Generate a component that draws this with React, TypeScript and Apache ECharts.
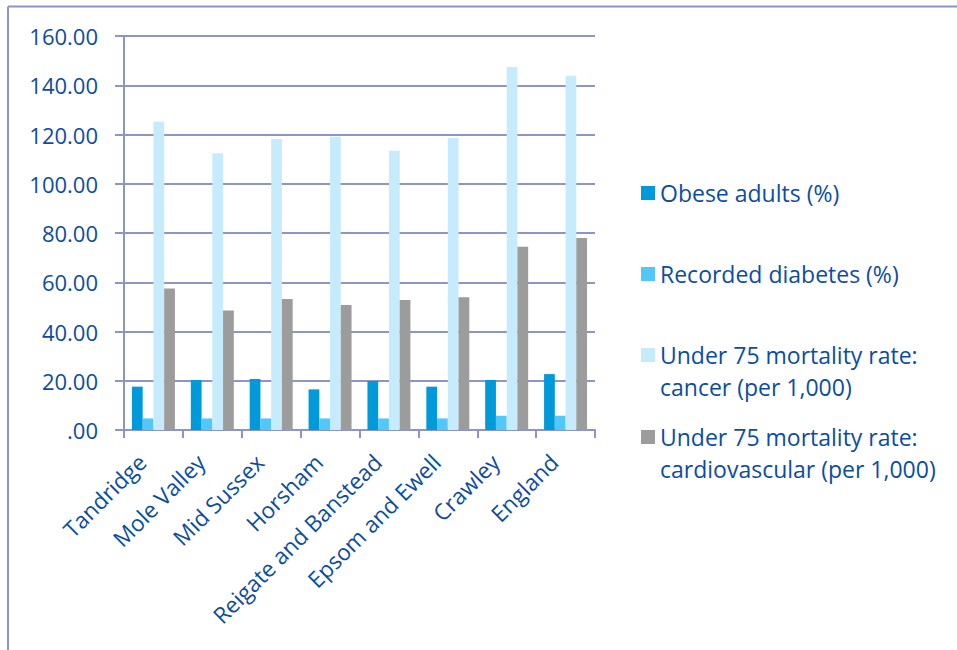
import React, { useEffect, useRef } from "react";
import * as echarts from "echarts";

const categories = [
  "Tandridge",
  "Mole Valley",
  "Mid Sussex",
  "Horsham",
  "Reigate and Banstead",
  "Epsom and Ewell",
  "Crawley",
  "England",
];
const obeseAdults = [17.6, 20.3, 20.7, 16.5, 19.9, 17.6, 20.3, 22.7];
const recordedDiabetes = [4.7, 4.7, 4.7, 4.7, 4.7, 4.7, 5.8, 5.8];
const mortalityCancer = [125.2, 112.4, 118.2, 119.1, 113.4, 118.6, 147.4, 143.9];
const mortalityCardio = [57.5, 48.5, 53.2, 50.8, 52.8, 53.9, 74.4, 78.0];
const yTicks = { min: 0, max: 160, interval: 20 };

const seriesNames = [
  "Obese adults (%)",
  "Recorded diabetes (%)",
  "Under 75 mortality rate: cancer (per 1,000)",
  "Under 75 mortality rate: cardiovascular (per 1,000)",
];
const legendLabels = [
  "Obese adults (%)",
  "Recorded diabetes (%)",
  "\nUnder 75 mortality rate:\ncancer (per 1,000)",
  "\nUnder 75 mortality rate:\ncardiovascular (per 1,000)",
];
const colors = ["#0099DA", "#52C8FA", "#C6EBFC", "#9C9C9C"];

const TEXT = "#0C4DA2";
const LINE = "#8C95C8";
const FONT = "'Open Sans', Lato, sans-serif";

export default function App() {
  const ref = useRef<HTMLDivElement>(null);
  useEffect(() => {
    if (!ref.current) return;
    const chart = echarts.init(ref.current, undefined, { renderer: "svg" });
    const values = [obeseAdults, recordedDiabetes, mortalityCancer, mortalityCardio];
    const legendTops = [177, 258, 307, 389];
    chart.setOption({
      animation: false,
      textStyle: { fontFamily: FONT },
      grid: { left: 124, top: 36, right: 362, bottom: 220 },
      legend: seriesNames.map((n, i) => ({
        data: [n],
        left: 641,
        top: legendTops[i],
        orient: "vertical",
        icon: "rect",
        itemWidth: 14,
        itemHeight: 14,
        padding: 0,
        selectedMode: false,
        formatter: () => legendLabels[i],
        textStyle: {
          color: TEXT,
          fontSize: 23,
          fontFamily: FONT,
          lineHeight: 32,
        },
      })),
      xAxis: {
        type: "category",
        data: categories,
        axisLine: { lineStyle: { color: LINE, width: 2 } },
        axisTick: { show: true, length: 8, interval: 0, lineStyle: { color: LINE, width: 2 } },
        axisLabel: {
          interval: 0,
          rotate: 45,
          margin: 17,
          padding: [0, 16, 0, 0],
          color: TEXT,
          fontSize: 22.5,
          fontFamily: FONT,
        },
      },
      yAxis: {
        type: "value",
        min: yTicks.min,
        max: yTicks.max,
        interval: yTicks.interval,
        axisLine: { show: true, lineStyle: { color: LINE, width: 2 } },
        axisTick: { show: true, length: 9, lineStyle: { color: LINE, width: 2 } },
        splitLine: { show: true, lineStyle: { color: LINE, width: 2 } },
        axisLabel: {
          margin: 26,
          color: TEXT,
          fontSize: 22,
          fontFamily: FONT,
          formatter: (v: number) => (v === 0 ? ".00" : v.toFixed(2)),
        },
      },
      graphic: [
        {
          type: "line",
          shape: { x1: 8, y1: 6.5, x2: 957, y2: 6.5 },
          style: { stroke: LINE, lineWidth: 2 },
        },
        {
          type: "line",
          shape: { x1: 8, y1: 6.5, x2: 8, y2: 650 },
          style: { stroke: LINE, lineWidth: 2 },
        },
      ],
      series: seriesNames.map((n, i) => ({
        name: n,
        type: "bar",
        data: values[i],
        barGap: "0%",
        barCategoryGap: "27%",
        itemStyle: { color: colors[i] },
      })),
    });
    return () => chart.dispose();
  }, []);
  return (
    <div
      ref={ref}
      style={{ position: "fixed", left: 0, top: 0, width: 957, height: 650, background: "#fff" }}
    />
  );
}
